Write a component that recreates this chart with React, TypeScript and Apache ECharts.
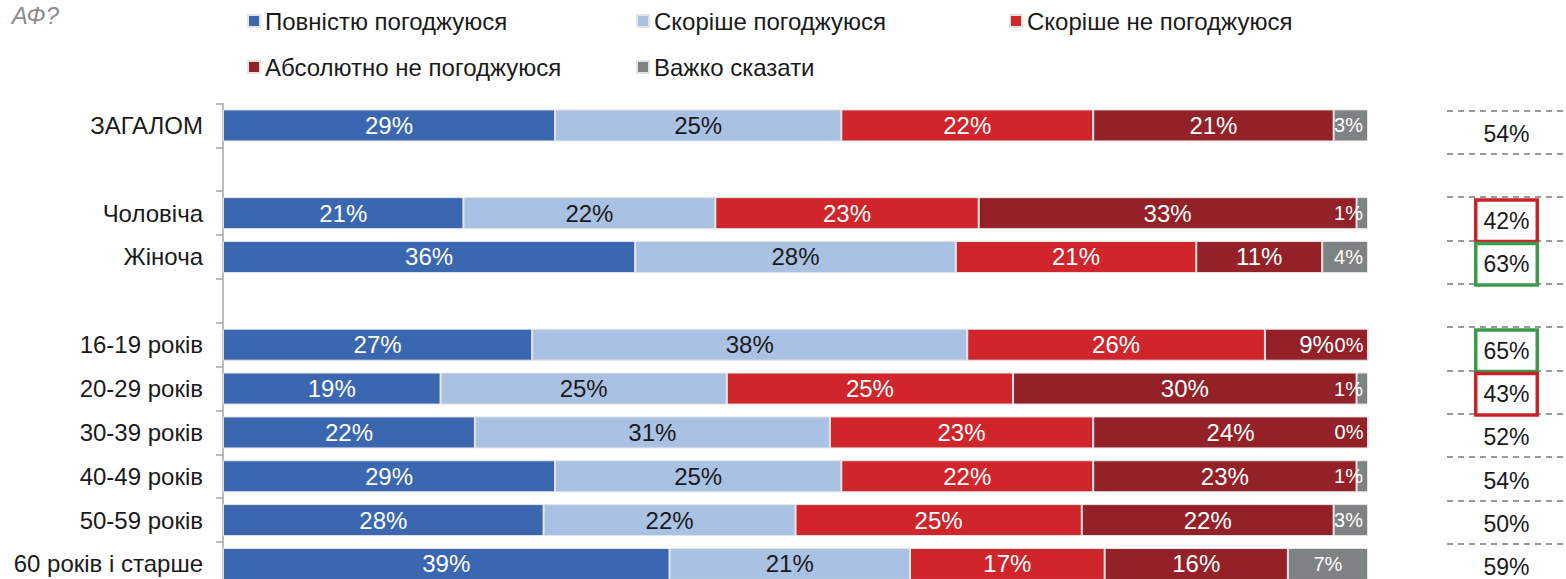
import React, { useEffect, useRef } from "react";
import * as echarts from "echarts";

const categories = [
  "ЗАГАЛОМ",
  "",
  "Чоловіча",
  "Жіноча",
  " ",
  "16-19 років",
  "20-29 років",
  "30-39 років",
  "40-49 років",
  "50-59 років",
  "60 років і старше",
];
const seriesNames = [
  "Повністю погоджуюся",
  "Скоріше погоджуюся",
  "Скоріше не погоджуюся",
  "Абсолютно не погоджуюся",
  "Важко сказати",
];
const fullyAgree = [29, null, 21, 36, null, 27, 19, 22, 29, 28, 39];
const ratherAgree = [25, null, 22, 28, null, 38, 25, 31, 25, 22, 21];
const ratherDisagree = [22, null, 23, 21, null, 26, 25, 23, 22, 25, 17];
const totallyDisagree = [21, null, 33, 11, null, 9, 30, 24, 23, 22, 16];
const hardToSay = [3, null, 1, 4, null, 0, 1, 0, 1, 3, 7];
const agreeTotal = [54, null, 42, 63, null, 65, 43, 52, 54, 50, 59];
const lowAgreeRows = ["Чоловіча", "20-29 років"];
const highAgreeRows = ["Жіноча", "16-19 років"];

const FONT = '"Liberation Sans", Arial, sans-serif';
const COLORS = ["#3a67b0", "#a9c1e3", "#d0252b", "#932127", "#7f8282"];
const TEXT = "#1a1a1a";

export default function App() {
  const ref = useRef<HTMLDivElement>(null);

  useEffect(() => {
    if (!ref.current) return;
    const chart = echarts.init(ref.current, null, { renderer: "svg" });
    const values = [fullyAgree, ratherAgree, ratherDisagree, totallyDisagree, hardToSay];

    const barSeries = values.map((arr, si) => ({
      type: "bar",
      name: seriesNames[si],
      stack: "total",
      xAxisIndex: 0,
      yAxisIndex: 0,
      barWidth: 32,
      itemStyle: { color: COLORS[si], borderColor: "#e4e4e4", borderWidth: 1 },
      label: {
        show: true,
        position: "inside",
        color: si === 1 ? TEXT : "#ffffff",
        fontSize: si === 4 ? 20 : 24,
        fontFamily: FONT,
        formatter: (p: any) => p.value + "%",
      },
      data: arr.map((v) =>
        v === null
          ? "-"
          : si === 4
          ? { value: v, label: { position: v < 5 ? "insideRight" : "inside", distance: 5 } }
          : v
      ),
    }));

    const totalsData = agreeTotal
      .map((v, i) => {
        if (v === null) return null;
        const cat = categories[i];
        const box = lowAgreeRows.includes(cat)
          ? "#c8222b"
          : highAgreeRows.includes(cat)
          ? "#3d9a4c"
          : null;
        const item: any = { value: [0.5, i, v] };
        if (box) {
          item.label = {
            borderColor: box,
            borderWidth: 3.5,
            padding: [7, 6, 5, 6],
            backgroundColor: "#fff",
          };
        }
        return item;
      })
      .filter((d) => d !== null);

    const legendPos = [
      { left: 247, top: 9 },
      { left: 636, top: 9 },
      { left: 1009, top: 9 },
      { left: 247, top: 55 },
      { left: 636, top: 55 },
    ];

    chart.setOption({
      animation: false,
      textStyle: { fontFamily: FONT },
      legend: seriesNames.map((n, i) => ({
        data: [n],
        left: legendPos[i].left,
        top: legendPos[i].top,
        padding: 0,
        itemGap: 0,
        itemWidth: 12,
        itemHeight: 12,
        icon: "rect",
        selectedMode: false,
        textStyle: { fontSize: 24, color: TEXT, fontFamily: FONT },
      })),
      graphic: [
        {
          type: "text",
          x: 59,
          y: 15,
          style: {
            text: "АФ?",
            align: "right",
            verticalAlign: "middle",
            fontSize: 24,
            fontStyle: "italic",
            fill: "#8c8c8c",
            fontFamily: FONT,
          },
        },
      ],
      grid: [
        { left: 223, width: 1145, top: 103.5, height: 482.4 },
        { left: 1447, width: 119, top: 110.5, height: 476.6 },
      ],
      xAxis: [
        { type: "value", gridIndex: 0, min: 0, max: 100, show: false },
        { type: "value", gridIndex: 1, min: 0, max: 1, show: false },
      ],
      yAxis: [
        {
          type: "category",
          gridIndex: 0,
          data: categories,
          inverse: true,
          axisLine: { show: true, lineStyle: { color: "#a6a6a6", width: 1.5 } },
          axisTick: { show: true, length: 7, lineStyle: { color: "#a6a6a6", width: 1.5 } },
          axisLabel: { color: TEXT, fontSize: 24, fontFamily: FONT, margin: 20 },
          splitLine: { show: false },
        },
        {
          type: "category",
          gridIndex: 1,
          data: categories,
          inverse: true,
          axisLine: { show: false },
          axisTick: { show: false },
          axisLabel: { show: false },
          splitLine: {
            show: true,
            lineStyle: { color: "#9a9a9a", width: 2, type: [6, 5] },
          },
        },
      ],
      series: [
        ...barSeries,
        {
          type: "scatter",
          xAxisIndex: 1,
          yAxisIndex: 1,
          symbolSize: 0,
          silent: true,
          itemStyle: { opacity: 1 },
          label: {
            show: true,
            position: "inside",
            color: TEXT,
            opacity: 1,
            offset: [0, 2],
            fontSize: 23,
            fontFamily: FONT,
            lineHeight: 26,
            formatter: (p: any) => p.value[2] + "%",
          },
          data: totalsData,
        },
      ],
    });
    return () => chart.dispose();
  }, []);

  return (
    <div
      style={{
        position: "absolute",
        left: 0,
        top: 0,
        width: 1566,
        height: 579,
        overflow: "hidden",
      }}
    >
      <div ref={ref} style={{ width: 1566, height: 600 }} />
    </div>
  );
}
